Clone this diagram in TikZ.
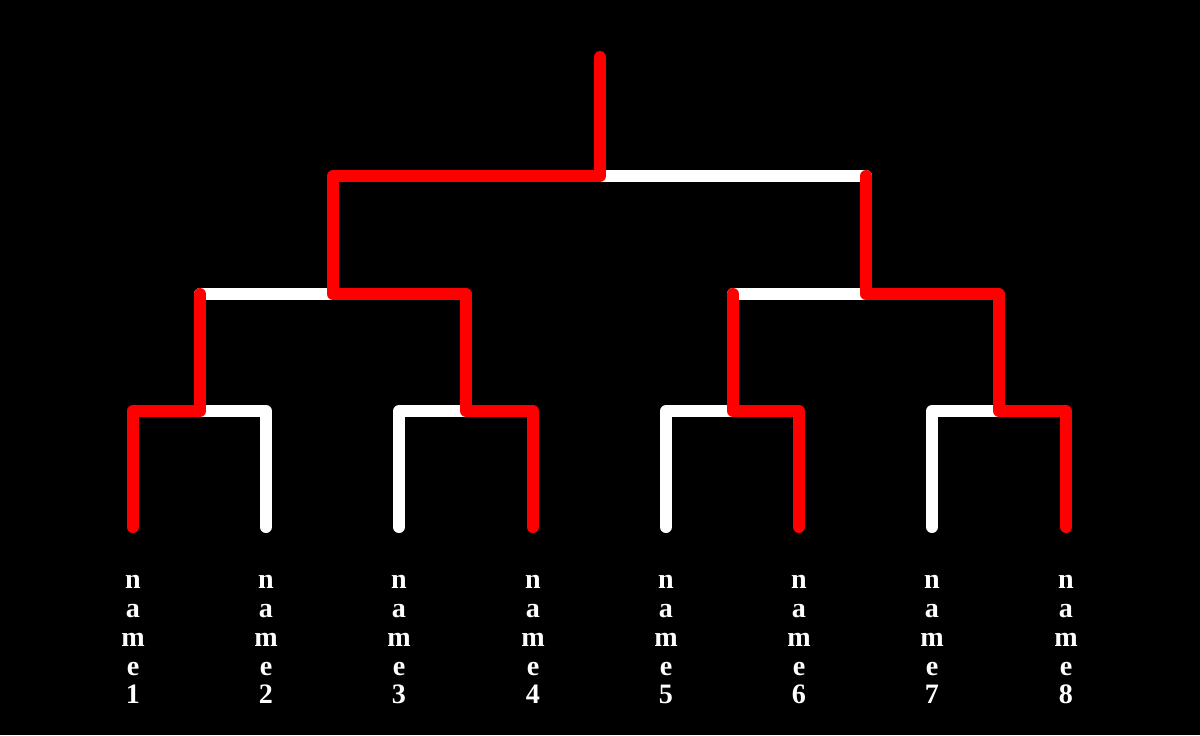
\documentclass[tikz,border=0pt]{standalone}
\usepackage{fontspec}
\setmainfont{Liberation Serif}
\usetikzlibrary{calc}

\begin{document}
\begin{tikzpicture}[x=0.02cm,y=-0.02cm,
    bar/.style={line width=0.24cm,line cap=round,line join=round},
    lose/.style={bar,white},
    win/.style={bar,red},
    leaflabel/.style={white,anchor=north,inner sep=0pt,align=center,
      font=\fontsize{16}{16.4}\selectfont\bfseries}]
  % background
  \fill[black] (0,0) rectangle (1200,735);
  \useasboundingbox (0,0) rectangle (1200,735);
  % leaves, their tops and labels
  \foreach \x [count=\i] in {133,266,399,533,666,799,932,1066} {
    \coordinate (l\i) at (\x,527);
    \coordinate (t\i) at (\x,411);
    \node[leaflabel] (n\i) at (\x,575) {n\\a\\m\\e\\\i};
  }
  % first round
  \coordinate (a1) at (200,411);
  \coordinate (a2) at (466,411);
  \coordinate (a3) at (733,411);
  \coordinate (a4) at (999,411);
  % second round
  \coordinate (b1) at (333,294);
  \coordinate (b2) at (866,294);
  % final and winner
  \coordinate (c1) at (600,176);
  \coordinate (top) at (600,57);
  % losing branches
  \draw[lose] (l2) -- (t2) -- (a1);
  \draw[lose] (l3) -- (t3) -- (a2);
  \draw[lose] (l5) -- (t5) -- (a3);
  \draw[lose] (l7) -- (t7) -- (a4);
  \draw[lose] (a1 |- b1) -- (b1);
  \draw[lose] (a3 |- b2) -- (b2);
  \draw[lose] (c1) -- (b2 |- c1);
  % winning branches
  \draw[win] (l1) -- (t1) -- (a1) -- (a1 |- b1);
  \draw[win] (l4) -- (t4) -- (a2) -- (a2 |- b1) -- (b1) -- (b1 |- c1) -- (c1) -- (top);
  \draw[win] (l6) -- (t6) -- (a3) -- (a3 |- b2);
  \draw[win] (l8) -- (t8) -- (a4) -- (a4 |- b2) -- (b2) -- (b2 |- c1);
\end{tikzpicture}
\end{document}
